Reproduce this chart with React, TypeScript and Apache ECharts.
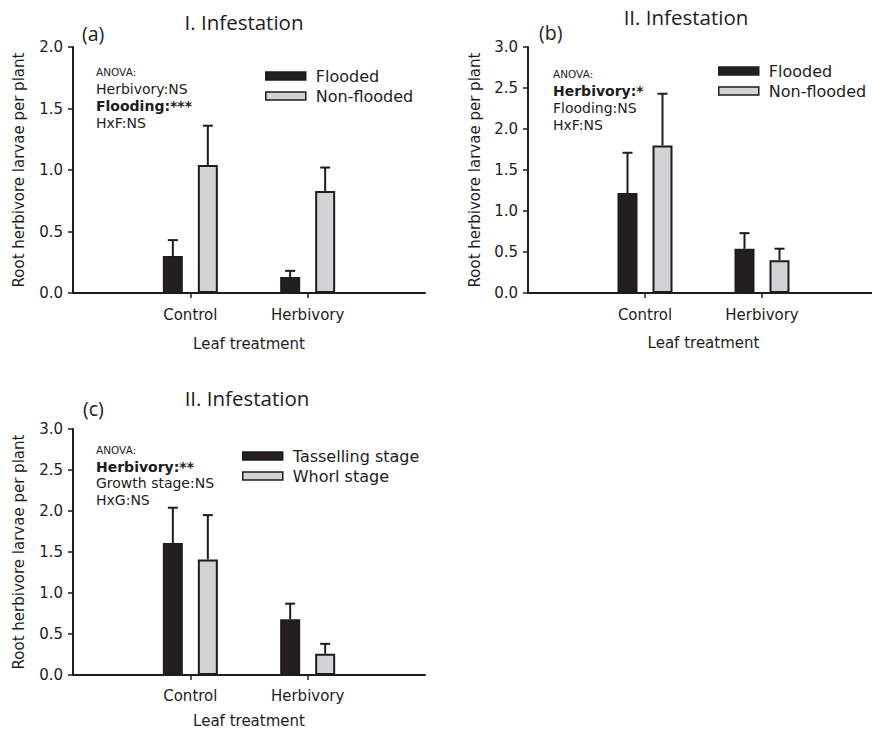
import React, { useEffect, useRef } from 'react';
import * as echarts from 'echarts';

const treatments = ['Control', 'Herbivory'];
const categories = ['', ...treatments, ' '];

// Panel (a) – I. Infestation
const aFloodedMean = [0.30, 0.13];
const aFloodedSE = [0.13, 0.05];
const aNonFloodedMean = [1.04, 0.83];
const aNonFloodedSE = [0.32, 0.19];

// Panel (b) – II. Infestation
const bFloodedMean = [1.22, 0.54];
const bFloodedSE = [0.49, 0.19];
const bNonFloodedMean = [1.80, 0.40];
const bNonFloodedSE = [0.63, 0.14];

// Panel (c) – II. Infestation, growth stage
const cTassellingMean = [1.61, 0.68];
const cTassellingSE = [0.43, 0.19];
const cWhorlMean = [1.41, 0.26];
const cWhorlSE = [0.54, 0.12];

const yTicksA = { min: 0, max: 2, interval: 0.5 };
const yTicksBC = { min: 0, max: 3, interval: 0.5 };

const FONT = '"DejaVu Sans", sans-serif';
const TITLE_FONT = '"Open Sans", sans-serif';
const INK = '#1e1c1d';
const DARK = '#231f20';
const LIGHT = '#d1d3d4';

const pad = (arr: number[]) => ['-', ...arr, '-'];
const showMid = (i: number) => i === 1 || i === 2;

const App: React.FC = () => {
  const ref = useRef<HTMLDivElement>(null);

  useEffect(() => {
    if (!ref.current) return;
    const chart = echarts.init(ref.current, undefined, { renderer: 'svg' });

    const grids = [
      { left: 73, top: 47, width: 352, height: 246, outerBoundsMode: 'none', containLabel: false },
      { left: 528, top: 47, width: 351, height: 246, outerBoundsMode: 'none', containLabel: false },
      { left: 73, top: 429, width: 352, height: 246, outerBoundsMode: 'none', containLabel: false },
    ];
    const labelMargins = [14, 14, 13];
    const xNameGaps = [43, 42, 38];
    const yNameGaps = [47, 46, 47];

    const xAxis = grids.map((_, i) => ({
      type: 'category',
      gridIndex: i,
      data: categories,
      boundaryGap: false,
      name: 'Leaf treatment',
      nameLocation: 'middle',
      nameGap: xNameGaps[i],
      nameTextStyle: { fontFamily: FONT, fontSize: 15, color: INK },
      axisLine: { show: true, lineStyle: { color: INK, width: 2 } },
      axisTick: { show: true, interval: showMid, length: 5, lineStyle: { color: INK, width: 1.5 } },
      axisLabel: { interval: showMid, margin: labelMargins[i], fontFamily: FONT, fontSize: 15, color: INK },
      splitLine: { show: false },
    }));

    const yAxis = grids.map((_, i) => {
      const t = i === 0 ? yTicksA : yTicksBC;
      return {
        type: 'value',
        gridIndex: i,
        min: t.min,
        max: t.max,
        interval: t.interval,
        name: 'Root herbivore larvae per plant',
        nameLocation: 'middle',
        nameGap: yNameGaps[i],
        nameTextStyle: { fontFamily: FONT, fontSize: 15, color: INK },
        axisLine: { show: true, lineStyle: { color: INK, width: 2 } },
        axisTick: { show: true, length: 5, lineStyle: { color: INK, width: 1.5 } },
        axisLabel: {
          margin: 10,
          fontFamily: FONT,
          fontSize: 15,
          color: INK,
          formatter: (v: number) => v.toFixed(1),
        },
        splitLine: { show: false },
      };
    });

    const barStyle = (fill: string) => ({ color: fill, borderColor: INK, borderWidth: 2 });

    const bar = (name: string, idx: number, means: number[], fill: string) => ({
      type: 'bar',
      name,
      xAxisIndex: idx,
      yAxisIndex: idx,
      data: pad(means),
      barWidth: 20,
      barGap: '75%',
      itemStyle: barStyle(fill),
      z: 2,
    });

    const errRender = (offset: number) => (params: any, api: any) => {
      const cat = api.value(0);
      const m = api.value(1);
      const se = api.value(2);
      const base = api.coord([cat, m]);
      const top = api.coord([cat, m + se]);
      const x = base[0] + offset;
      return {
        type: 'group',
        children: [
          { type: 'line', shape: { x1: x, y1: base[1], x2: x, y2: top[1] }, style: { stroke: INK, lineWidth: 2 } },
          { type: 'line', shape: { x1: x - 5, y1: top[1], x2: x + 5, y2: top[1] }, style: { stroke: INK, lineWidth: 2 } },
        ],
      };
    };

    const err = (name: string, idx: number, means: number[], se: number[], offset: number) => ({
      type: 'custom',
      name: name + ' SE',
      xAxisIndex: idx,
      yAxisIndex: idx,
      data: means.map((m, i) => [i + 1, m, se[i]]),
      encode: { x: 0, y: 1 },
      renderItem: errRender(offset),
      z: 3,
      silent: true,
    });

    const series = [
      bar('Flooded', 0, aFloodedMean, DARK),
      bar('Non-flooded', 0, aNonFloodedMean, LIGHT),
      err('Flooded', 0, aFloodedMean, aFloodedSE, -17.5),
      err('Non-flooded', 0, aNonFloodedMean, aNonFloodedSE, 17.5),
      bar('Flooded', 1, bFloodedMean, DARK),
      bar('Non-flooded', 1, bNonFloodedMean, LIGHT),
      err('Flooded', 1, bFloodedMean, bFloodedSE, -17.5),
      err('Non-flooded', 1, bNonFloodedMean, bNonFloodedSE, 17.5),
      bar('Tasselling stage', 2, cTassellingMean, DARK),
      bar('Whorl stage', 2, cWhorlMean, LIGHT),
      err('Tasselling stage', 2, cTassellingMean, cTassellingSE, -17.5),
      err('Whorl stage', 2, cWhorlMean, cWhorlSE, 17.5),
    ];

    const legendBase = {
      orient: 'vertical',
      itemWidth: 40,
      itemHeight: 8,
      itemGap: 2,
      padding: 0,
      selectedMode: false,
      icon: 'rect',
      textStyle: { fontFamily: FONT, fontSize: 16, color: INK, lineHeight: 18, padding: [0, 0, 0, 5] },
    };
    const legItem = (name: string, fill: string) => ({
      name,
      icon: 'rect',
      itemStyle: { color: fill, borderColor: INK, borderWidth: 1.5 },
    });

    const legend = [
      { ...legendBase, left: 265, top: 67, data: [legItem('Flooded', DARK), legItem('Non-flooded', LIGHT)] },
      { ...legendBase, left: 718, top: 62, data: [legItem('Flooded', DARK), legItem('Non-flooded', LIGHT)] },
      { ...legendBase, left: 242, top: 447, data: [legItem('Tasselling stage', DARK), legItem('Whorl stage', LIGHT)] },
    ];

    const txt = (text: string, x: number, y: number, font: string, align = 'left') => ({
      type: 'text',
      x,
      y,
      style: { text, font, fill: INK, textAlign: align, verticalAlign: 'middle' },
    });
    const titleFont = `20.5px ${TITLE_FONT}`;
    const labelFont = `19.5px ${TITLE_FONT}`;
    const small = `10.5px ${FONT}`;
    const norm = `14px ${FONT}`;
    const bold = `bold 14px ${FONT}`;

    const graphic = [
      txt('I. Infestation', 244, 22, titleFont, 'center'),
      txt('(a)', 82, 33, labelFont),
      txt('II. Infestation', 686, 17, titleFont, 'center'),
      txt('(b)', 539, 32, labelFont),
      txt('II. Infestation', 247, 398, titleFont, 'center'),
      txt('(c)', 83, 408, labelFont),

      txt('ANOVA:', 96, 72, small),
      txt('Herbivory:NS', 96, 89, norm),
      txt('Flooding:***', 96, 106, bold),
      txt('HxF:NS', 96, 123, norm),

      txt('ANOVA:', 553, 74, small),
      txt('Herbivory:*', 553, 91, bold),
      txt('Flooding:NS', 553, 108, norm),
      txt('HxF:NS', 553, 125, norm),

      txt('ANOVA:', 96, 450, small),
      txt('Herbivory:**', 96, 467, bold),
      txt('Growth stage:NS', 96, 483, norm),
      txt('HxG:NS', 96, 500, norm),
    ];

    chart.setOption({
      animation: false,
      backgroundColor: '#ffffff',
      grid: grids,
      xAxis,
      yAxis,
      legend,
      series,
      graphic,
    } as any);

    return () => chart.dispose();
  }, []);

  return <div ref={ref} style={{ width: 872, height: 732, position: 'absolute', left: 0, top: 0 }} />;
};

export default App;
